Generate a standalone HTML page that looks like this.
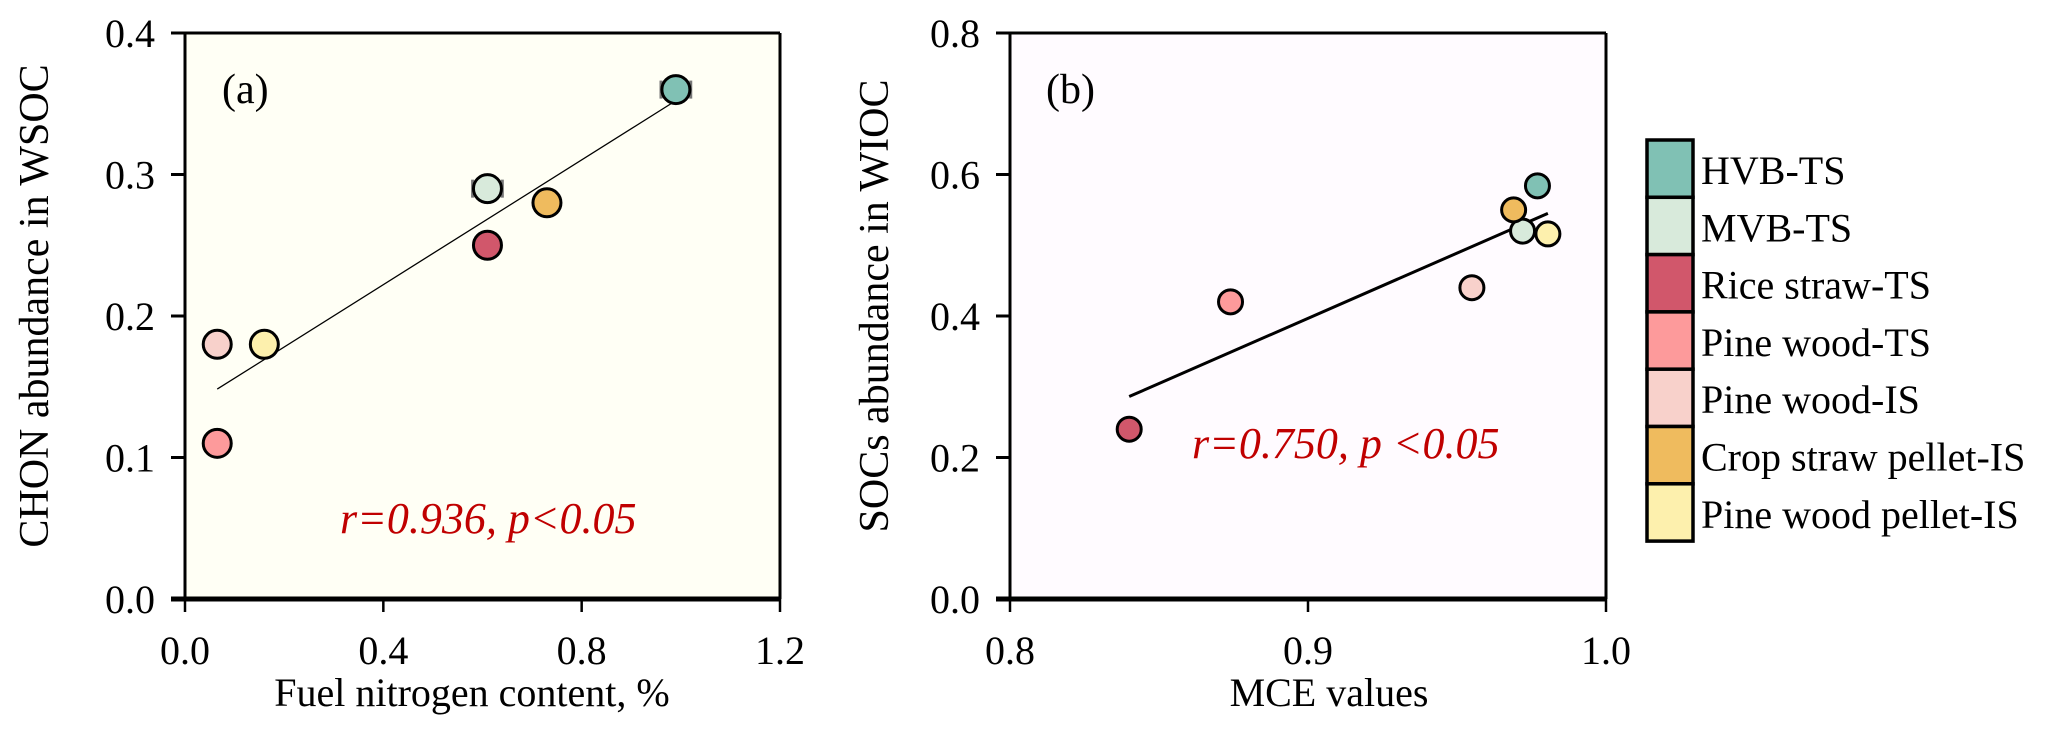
<!DOCTYPE html>
<html><head><meta charset="utf-8">
<style>
html,body{margin:0;padding:0;background:#fff;}
svg{display:block;font-family:"Liberation Serif","Times New Roman",serif;}
</style></head>
<body>
<svg id="chart" width="2067" height="733" viewBox="0 0 2067 733"></svg>
<script>
const seriesNames = ["HVB-TS","MVB-TS","Rice straw-TS","Pine wood-TS","Pine wood-IS","Crop straw pellet-IS","Pine wood pellet-IS"];
const seriesColors = ["#80c1b4","#d8eadb","#d1576b","#fd9a9b","#f8d1cb","#efbb5e","#fdf0ad"];
// Panel (a)
const aX = [0.99,0.61,0.61,0.065,0.065,0.73,0.16];
const aY = [0.36,0.29,0.25,0.11,0.18,0.28,0.18];
const aXErr = [0.03,0.03,0,0,0,0,0];
const aXTicks = ["0.0","0.4","0.8","1.2"];
const aYTicks = ["0.0","0.1","0.2","0.3","0.4"];
// Panel (b)
const bX = [0.977,0.972,0.84,0.874,0.955,0.969,0.9805];
const bY = [0.584,0.52,0.24,0.42,0.44,0.55,0.516];
const bXTicks = ["0.8","0.9","1.0"];
const bYTicks = ["0.0","0.2","0.4","0.6","0.8"];

const NS="http://www.w3.org/2000/svg";
const svg=document.getElementById('chart');
function mk(tag,attrs,parent){const e=document.createElementNS(NS,tag);for(const k in attrs)e.setAttribute(k,attrs[k]);(parent||svg).appendChild(e);return e;}
function fit(xs,ys){const n=xs.length;let mx=0,my=0;for(let i=0;i<n;i++){mx+=xs[i];my+=ys[i];}mx/=n;my/=n;let sxy=0,sxx=0;for(let i=0;i<n;i++){sxy+=(xs[i]-mx)*(ys[i]-my);sxx+=(xs[i]-mx)**2;}const b=sxy/sxx;return [b,my-b*mx];}

function panel(o){
  const g=mk('g',{});
  
  
  const {L,R,T,B}=o;
  const xmin=parseFloat(o.xt[0]),xmax=parseFloat(o.xt[o.xt.length-1]);
  const ymin=parseFloat(o.yt[0]),ymax=parseFloat(o.yt[o.yt.length-1]);
  const sx=v=>L+(v-xmin)/(xmax-xmin)*(R-L);
  const sy=v=>B-(v-ymin)/(ymax-ymin)*(B-T);
  const bg=mk('rect',{x:L,y:T,width:R-L,height:B-T,fill:o.bg},g);
  
  
  // frame
  mk('line',{x1:L,y1:T,x2:R,y2:T,stroke:'#000','stroke-width':3},g);
  mk('line',{x1:R,y1:T,x2:R,y2:B,stroke:'#000','stroke-width':3},g);
  const ya=mk('line',{x1:L,y1:T,x2:L,y2:B,stroke:'#000','stroke-width':3},g);
  
  
  const xa=mk('line',{x1:L-14,y1:B,x2:R,y2:B,stroke:'#000','stroke-width':5},g);
  
  
  o.yt.forEach(t=>{const y=sy(parseFloat(t));
    mk('line',{x1:L-14,y1:y,x2:L,y2:y,stroke:'#000','stroke-width':3},g);
    const tx=mk('text',{x:L-30,y:y+14,'font-size':40,'text-anchor':'end'},g);tx.textContent=t;
    
    });
  o.xt.forEach(t=>{const x=sx(parseFloat(t));
    mk('line',{x1:x,y1:B,x2:x,y2:B+13,stroke:'#000','stroke-width':2.5},g);
    const tx=mk('text',{x:x,y:664,'font-size':40,'text-anchor':'middle'},g);tx.textContent=t;
    
    });
  const xt=mk('text',{x:o.xtx,y:706,'font-size':40,'text-anchor':'middle'},g);xt.textContent=o.xtitle;
  
  
  const yt=mk('text',{x:0,y:0,'font-size':42,'text-anchor':'middle',transform:`translate(${o.ytx},${(T+B)/2-10}) rotate(-90)`},g);yt.textContent=o.ytitle;
  
  
  const lab=mk('text',{x:o.labx,y:T+70,'font-size':42},g);lab.textContent=o.label;
  
  
  // regression
  const [b,a]=fit(o.xs,o.ys);
  const x0=Math.min(...o.xs),x1=Math.max(...o.xs);
  const rl=mk('line',{x1:sx(x0),y1:sy(a+b*x0),x2:sx(x1),y2:sy(a+b*x1),stroke:'#000','stroke-width':o.lw},g);
  
  
  const rt=mk('text',{x:o.rx,y:o.ry,'font-size':44,'font-style':'italic',fill:'#c00000'},g);rt.textContent=o.rtext;
  
  
  // error bars
  if(o.err){o.xs.forEach((v,i)=>{const e=o.err[i];if(!e)return;const y=sy(o.ys[i]);
    const eb=mk('g',{stroke:'#777','stroke-width':3},g);
    
    
    mk('line',{x1:sx(v-e),y1:y,x2:sx(v+e),y2:y},eb);
    mk('line',{x1:sx(v-e),y1:y-9,x2:sx(v-e),y2:y+9},eb);
    mk('line',{x1:sx(v+e),y1:y-9,x2:sx(v+e),y2:y+9},eb);});}
  o.xs.forEach((v,i)=>{const c=mk('circle',{cx:sx(v),cy:sy(o.ys[i]),r:o.r,fill:seriesColors[i],stroke:'#000','stroke-width':3},g);
    
    });
}
panel({name:'panel-a',L:185,R:780,T:33,B:599,bg:'#fffff5',xt:aXTicks,yt:aYTicks,xs:aX,ys:aY,err:aXErr,r:14,lw:1.3,
  xtitle:'Fuel nitrogen content, %',xtx:472,ytitle:'CHON abundance in WSOC',ytx:48,label:'(a)',labx:222,
  rtext:'r=0.936, p<0.05',rx:340,ry:533});
panel({name:'panel-b',L:1010,R:1606,T:33,B:599,bg:'#fffbff',xt:bXTicks,yt:bYTicks,xs:bX,ys:bY,r:12,lw:3,
  xtitle:'MCE values',xtx:1329,ytitle:'SOCs abundance in WIOC',ytx:888,label:'(b)',labx:1046,
  rtext:'r=0.750, p <0.05',rx:1192,ry:458});
// legend
const lg=mk('g',{});


seriesNames.forEach((n,i)=>{const y=140+i*57.3;
  const e=mk('g',{},lg);
  
  
  mk('rect',{x:1647,y:y,width:46,height:57.3,fill:seriesColors[i],stroke:'#000','stroke-width':3.5},e);
  const t=mk('text',{x:1701,y:y+44,'font-size':40},e);t.textContent=n;});
</script>
</body></html>
